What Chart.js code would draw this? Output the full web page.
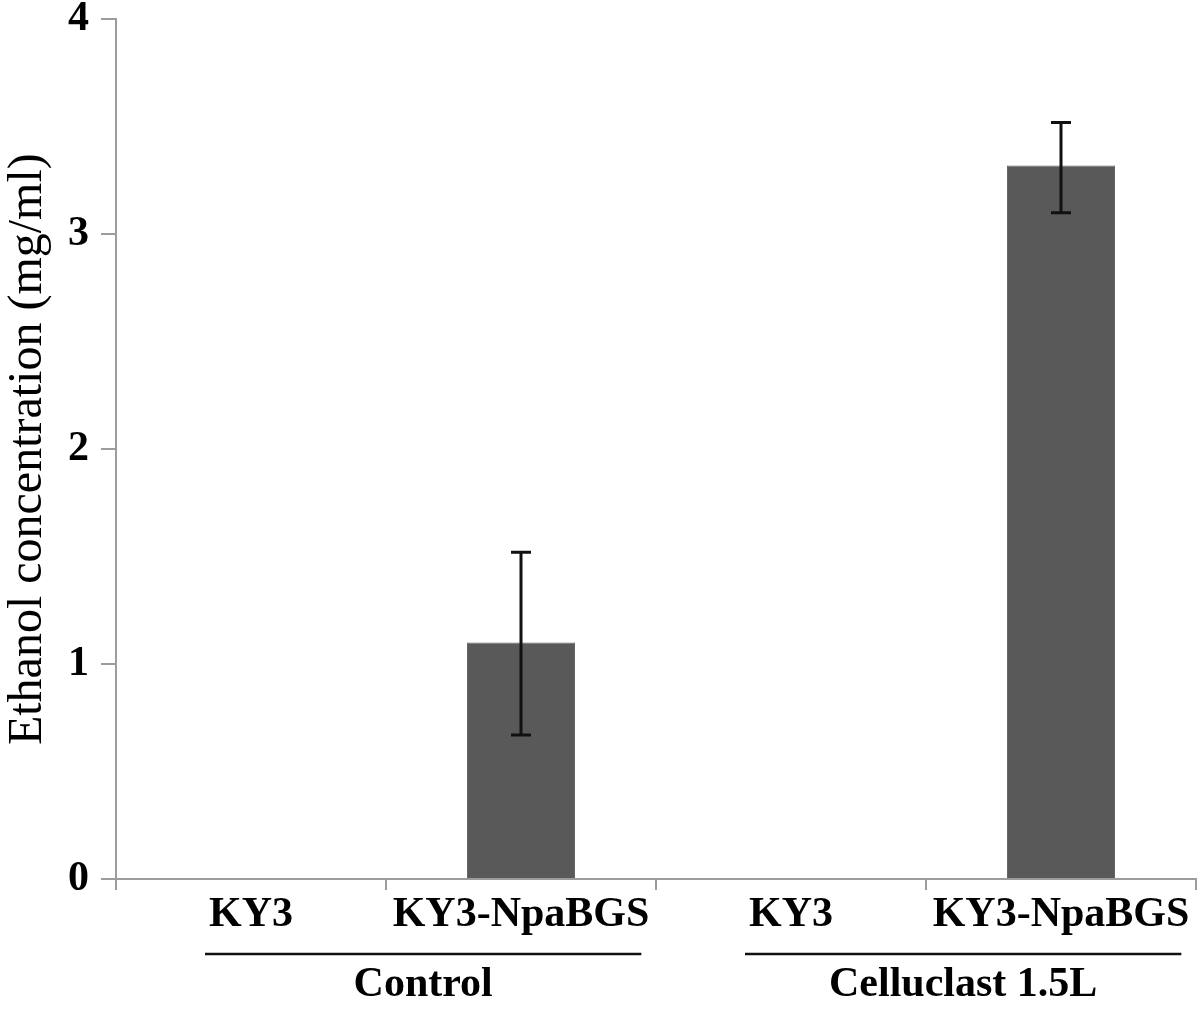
<!DOCTYPE html>
<html>
<head>
<meta charset="utf-8">
<script src="https://cdn.jsdelivr.net/npm/chart.js@4/dist/chart.umd.min.js"></script>
<style>
  html, body { margin: 0; padding: 0; background: #fff; }
  #wrap { width: 1200px; height: 1011px; position: relative; }
</style>
</head>
<body>
<div id="wrap"><canvas id="ethanolChart"></canvas></div>
<script>
// data
const strains = ['KY3', 'KY3-NpaBGS', 'KY3', 'KY3-NpaBGS'];
const ethanol = [0, 1.1, 0, 3.32];
const errUp = [0, 0.42, 0, 0.2];
const errDown = [0, 0.43, 0, 0.22];
const groupNames = ['Control', 'Celluclast 1.5L'];
const groupStart = [0, 2];
const groupEnd = [1, 3];
const yTicks = [0, 1, 2, 3, 4];

const serif = '"Liberation Serif", "Times New Roman", serif';
const axisGrey = '#9c9c9c';

// error bars on top of the bars
const errorBars = {
  id: 'errorBars',
  afterDatasetsDraw(chart) {
    const { ctx, scales: { x, y } } = chart;
    ctx.save();
    ctx.strokeStyle = '#111';
    ctx.lineWidth = 3;
    ethanol.forEach((v, i) => {
      if (!errUp[i] && !errDown[i]) return;
      const cx = x.getPixelForValue(i);
      const top = y.getPixelForValue(v + errUp[i]);
      const bot = y.getPixelForValue(v - errDown[i]);
      ctx.beginPath();
      ctx.moveTo(cx, top); ctx.lineTo(cx, bot);
      ctx.moveTo(cx - 10, top); ctx.lineTo(cx + 10, top);
      ctx.moveTo(cx - 10, bot); ctx.lineTo(cx + 10, bot);
      ctx.stroke();
    });
    ctx.restore();
  }
};

// group lines and names under the strain labels
const groupLabels = {
  id: 'groupLabels',
  afterDraw(chart) {
    const { ctx, scales: { x }, chartArea } = chart;
    ctx.save();
    ctx.font = 'bold 42px ' + serif;
    groupNames.forEach((name, g) => {
      const a = groupStart[g], b = groupEnd[g];
      const left = x.getPixelForValue(a) - ctx.measureText(strains[a]).width / 2 - 4;
      const right = x.getPixelForValue(b) + ctx.measureText(strains[b]).width / 2 - 8;
      const lineY = chartArea.bottom + 75;
      ctx.strokeStyle = '#111';
      ctx.lineWidth = 2.5;
      ctx.beginPath();
      ctx.moveTo(left, lineY); ctx.lineTo(right, lineY);
      ctx.stroke();
      ctx.fillStyle = '#000';
      ctx.textAlign = 'center';
      ctx.textBaseline = 'middle';
      ctx.fillText(name, (left + right) / 2, chartArea.bottom + 106);
    });
    ctx.restore();
  }
};

const ctx = document.getElementById('ethanolChart').getContext('2d');
new Chart(ctx, {
  type: 'bar',
  data: {
    labels: strains,
    datasets: [{
      data: ethanol,
      backgroundColor: '#595959',
      borderColor: '#666',
      borderWidth: 1,
      barPercentage: 0.8,
      categoryPercentage: 0.5
    }]
  },
  options: {
    responsive: true,
    maintainAspectRatio: false,
    animation: false,
    layout: { padding: { top: 0, right: 4, left: 4, bottom: 0 } },
    plugins: {
      legend: { display: false },
      tooltip: { enabled: false }
    },
    scales: {
      x: {
        offset: true,
        border: { color: axisGrey, width: 2 },
        grid: { drawOnChartArea: false, color: axisGrey, lineWidth: 2, tickLength: 11, offset: true },
        ticks: {
          color: '#000',
          autoSkip: false,
          maxRotation: 0,
          padding: 0,
          font: { family: serif, size: 42, weight: 'bold' }
        },
        afterFit(scale) { scale.height = 132; }
      },
      y: {
        min: 0,
        max: 4,
        afterBuildTicks(scale) { scale.ticks = yTicks.map(v => ({ value: v })); },
        border: { color: axisGrey, width: 2 },
        grid: { drawOnChartArea: false, color: axisGrey, lineWidth: 2, tickLength: 15 },
        ticks: {
          color: '#000',
          padding: 12,
          font: { family: serif, size: 42, weight: 'bold', lineHeight: 0.35 }
        },
        title: {
          display: true,
          text: 'Ethanol concentration (mg/ml)',
          color: '#000',
          padding: { top: 0, bottom: 0 },
          font: { family: serif, size: 48, lineHeight: 1.0 }
        },
        afterFit(scale) { scale.width = 112; }
      }
    }
  },
  plugins: [errorBars, groupLabels]
});
</script>
</body>
</html>
